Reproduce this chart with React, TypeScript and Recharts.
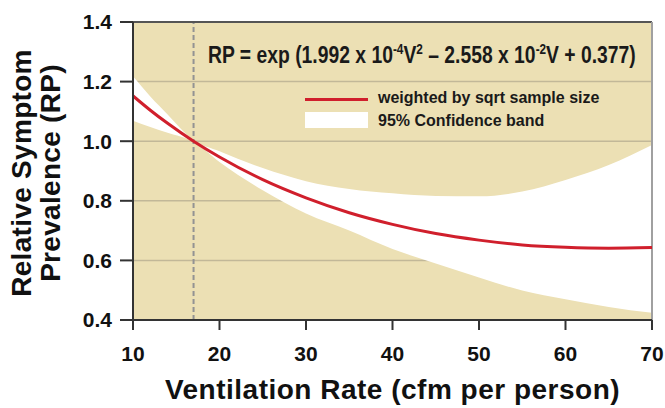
import { ComposedChart, Area, Line, XAxis, YAxis, CartesianGrid, ReferenceLine } from "recharts";

const ventilation = [10, 12, 14, 17, 20, 25, 30, 35, 40, 45, 50, 55, 60, 65, 70];
const rpWeighted = [1.152, 1.104, 1.06, 1.0, 0.947, 0.871, 0.81, 0.76, 0.721, 0.69, 0.668, 0.652, 0.644, 0.641, 0.643];
const bandUpper = [1.218, 1.15, 1.09, 1.003, 0.966, 0.91, 0.866, 0.84, 0.825, 0.816, 0.815, 0.831, 0.87, 0.92, 0.987];
const bandLower = [1.069, 1.048, 1.028, 0.998, 0.93, 0.835, 0.757, 0.7, 0.638, 0.59, 0.543, 0.499, 0.47, 0.444, 0.424];

const xTicks = [10, 20, 30, 40, 50, 60, 70];
const yTicks = [0.4, 0.6, 0.8, 1.0, 1.2, 1.4];
const legendLabels = ["weighted by sqrt sample size", "95% Confidence band"];

const data = ventilation.map((v, i) => ({
  v,
  rp: rpWeighted[i],
  band: [bandLower[i], bandUpper[i]],
}));

const FONT = '"Liberation Sans", Arial, Helvetica, sans-serif';
const TAN = "#ECE0B4";
const RED = "#D01F2C";

const supStyle = { fontSize: 14, verticalAlign: 9 };

const App = () => {
  return (
    <div style={{ position: "absolute", left: 0, top: 0, width: 665, height: 408, background: "#fff", fontFamily: FONT }}>
      <ComposedChart width={665} height={408} data={data} margin={{ top: 22, right: 13, bottom: 0, left: 0 }}>
        <CartesianGrid vertical={false} fill={TAN} stroke="#C2B898" strokeWidth={1.5} />
        <XAxis
          dataKey="v"
          type="number"
          domain={[10, 70]}
          ticks={xTicks}
          height={88}
          tickSize={10}
          tickMargin={16}
          axisLine={{ stroke: "#333", strokeWidth: 2 }}
          tickLine={{ stroke: "#333", strokeWidth: 2 }}
          tick={{ fill: "#111", fontSize: 21, fontWeight: "bold", fontFamily: FONT }}
        />
        <YAxis
          type="number"
          domain={[0.4, 1.4]}
          ticks={yTicks}
          width={133}
          tickSize={13}
          tickMargin={8}
          tickFormatter={(t: number) => t.toFixed(1)}
          axisLine={{ stroke: "#333", strokeWidth: 2 }}
          tickLine={{ stroke: "#333", strokeWidth: 2 }}
          tick={{ fill: "#111", fontSize: 21, fontWeight: "bold", fontFamily: FONT }}
        />
        <Area
          dataKey="band"
          type="monotone"
          fill="#FFFFFF"
          fillOpacity={1}
          stroke="none"
          isAnimationActive={false}
        />
        <ReferenceLine x={17} stroke="#939393" strokeWidth={2} strokeDasharray="5 3" />
        <ReferenceLine y={1.4} stroke="#555" strokeWidth={2} />
        <ReferenceLine x={70} stroke="#A0A0A0" strokeWidth={2} />
        <Line
          dataKey="rp"
          type="monotone"
          stroke={RED}
          strokeWidth={3}
          dot={false}
          isAnimationActive={false}
        />
      </ComposedChart>

      {/* equation */}
      <div
        style={{
          position: "absolute",
          left: 208,
          top: 35,
          fontSize: 23,
          lineHeight: "28px",
          fontWeight: "bold",
          color: "#1a1a1a",
          whiteSpace: "nowrap",
          transform: "scaleX(0.84)",
          transformOrigin: "left center",
        }}
      >
        RP = exp (1.992 x 10<sup style={supStyle}>-4</sup>V<sup style={supStyle}>2</sup> – 2.558 x 10
        <sup style={supStyle}>-2</sup>V + 0.377)
      </div>

      {/* legend */}
      <div style={{ position: "absolute", left: 305, top: 98, width: 63, height: 3, background: RED }} />
      <div style={{ position: "absolute", left: 305, top: 112, width: 63, height: 16, background: "#fff" }} />
      <div
        style={{
          position: "absolute",
          left: 378,
          top: 86,
          fontSize: 16,
          lineHeight: "23px",
          fontWeight: "bold",
          color: "#1a1a1a",
          whiteSpace: "nowrap",
        }}
      >
        <div>{legendLabels[0]}</div>
        <div>{legendLabels[1]}</div>
      </div>

      {/* axis titles */}
      <div
        style={{
          position: "absolute",
          left: 36 - 150,
          top: 173 - 29,
          width: 300,
          height: 58,
          fontSize: 28,
          lineHeight: "29px",
          fontWeight: "bold",
          letterSpacing: 0.3,
          color: "#111",
          textAlign: "center",
          transform: "rotate(-90deg)",
          whiteSpace: "nowrap",
        }}
      >
        <div>Relative Symptom</div>
        <div>Prevalence (RP)</div>
      </div>
      <div
        style={{
          position: "absolute",
          left: 133,
          top: 374,
          width: 519,
          fontSize: 28,
          lineHeight: "32px",
          fontWeight: "bold",
          letterSpacing: 0.5,
          color: "#111",
          textAlign: "center",
          whiteSpace: "nowrap",
        }}
      >
        Ventilation Rate (cfm per person)
      </div>
    </div>
  );
};

export default App;
